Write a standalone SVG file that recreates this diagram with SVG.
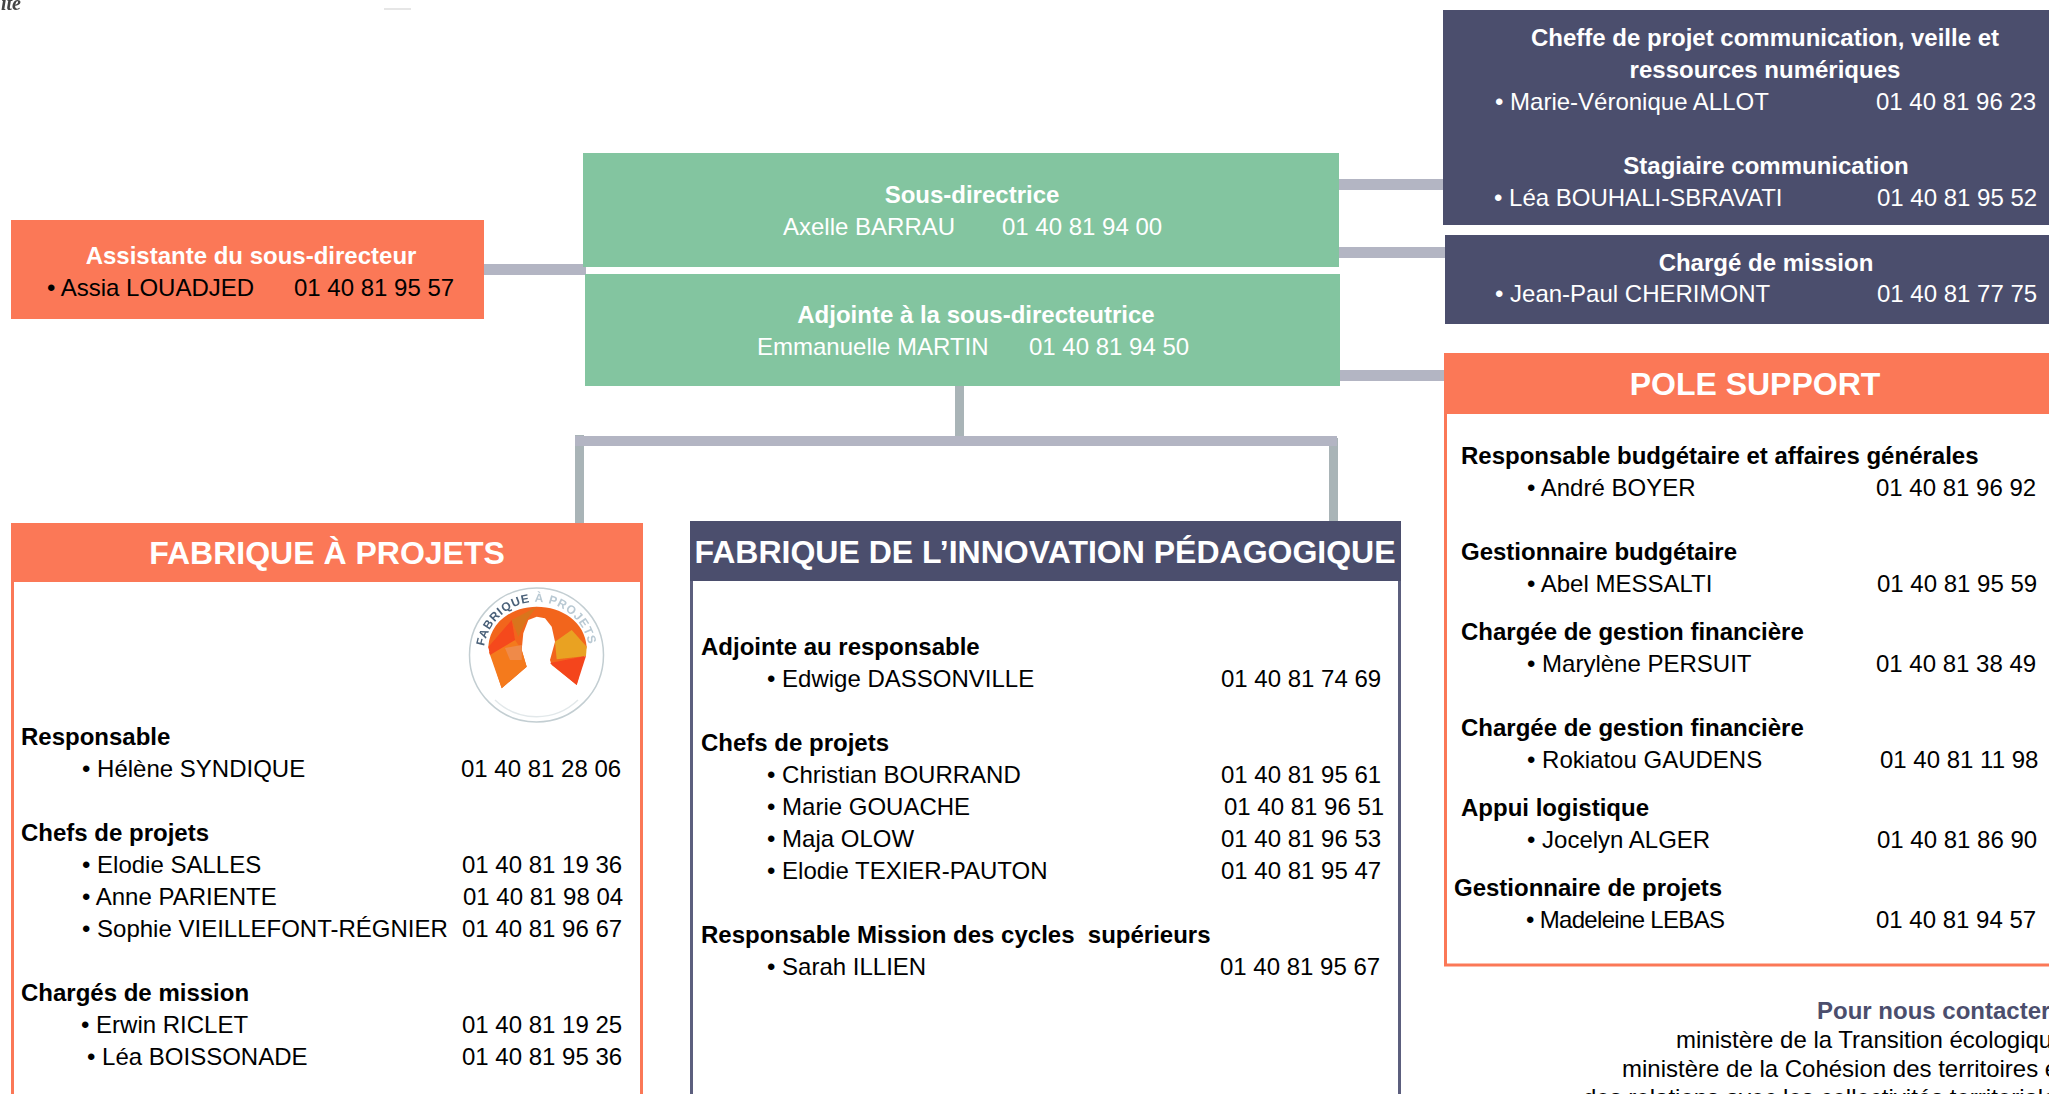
<svg xmlns="http://www.w3.org/2000/svg" width="2049" height="1094" viewBox="0 0 2049 1094">
<style>
text{font-family:"Liberation Sans",Arial,sans-serif;font-size:24px;fill:#000}
.b{font-weight:700}
.w{fill:#fff}
.c{text-anchor:middle}
.h{font-size:32px;font-weight:700;fill:#fff;text-anchor:middle}
.o{fill:#fb7857}
.n{fill:#4b4e6d}
.g{fill:#83c5a0}
.l{fill:#b3b5c3}
.v{fill:#a9b4b7}
.bo{fill:#fff;stroke:#fb7857;stroke-width:3}
.bn{fill:#fff;stroke:#5c5f7e;stroke-width:3}
</style>
<defs>
<filter id="soft" x="-10%" y="-10%" width="120%" height="120%"><feGaussianBlur stdDeviation="0.7"/></filter>
<path id="lp" d="M484.200 646.300A53 53 0 0 1 588.800 646.300"/>
</defs>
<rect width="2049" height="1094" fill="#fff"/>
<g id="connectors">
<rect class="l" x="484" y="264" width="102" height="11"/>
<rect class="l" x="1339" y="179" width="105" height="11"/>
<rect class="l" x="1339" y="247" width="106" height="11"/>
<rect class="l" x="1340" y="370" width="105" height="11"/>
<rect class="v" x="955" y="386" width="9" height="51"/>
<rect class="v" x="575" y="435" width="9" height="88"/>
<rect class="v" x="1329" y="438" width="9" height="84"/>
<rect class="l" x="575" y="436" width="762" height="10"/>
</g>
<g id="fragments">
<text x="1" y="10" filter="url(#soft)" style="font-family:'Liberation Serif',serif;font-style:italic;font-weight:700;font-size:20px;fill:#444">ité</text>
<rect x="384" y="8" width="27" height="2" fill="#e6e6e6"/>
</g>
<g id="assistante">
<rect class="o" x="11" y="220" width="473" height="99"/>
<text class="b w c" x="251" y="264">Assistante du sous-directeur</text>
<text x="47" y="296">• Assia LOUADJED</text>
<text x="294" y="296">01 40 81 95 57</text>
</g>
<g id="sous-directrice">
<rect class="g" x="583" y="153" width="756" height="114"/>
<text class="b w c" x="972" y="203">Sous-directrice</text>
<text class="w" x="783" y="235">Axelle BARRAU</text>
<text class="w" x="1002" y="235">01 40 81 94 00</text>
</g>
<g id="adjointe">
<rect class="g" x="585" y="274" width="755" height="112"/>
<text class="b w c" x="976" y="323">Adjointe à la sous-directeutrice</text>
<text class="w" x="757" y="355">Emmanuelle MARTIN</text>
<text class="w" x="1029" y="355">01 40 81 94 50</text>
</g>
<g id="communication">
<rect class="n" x="1443" y="10" width="606" height="215"/>
<text class="b w c" x="1765" y="46">Cheffe de projet communication, veille et</text>
<text class="b w c" x="1765" y="78">ressources numériques</text>
<text class="w" x="1495" y="110">• Marie-Véronique ALLOT</text>
<text class="w" x="1876" y="110">01 40 81 96 23</text>
<text class="b w c" x="1766" y="174">Stagiaire communication</text>
<text class="w" x="1494" y="206">• Léa BOUHALI-SBRAVATI</text>
<text class="w" x="1877" y="206">01 40 81 95 52</text>
</g>
<g id="charge-de-mission">
<rect class="n" x="1445" y="235" width="604" height="89"/>
<text class="b w c" x="1766" y="271">Chargé de mission</text>
<text class="w" x="1495" y="302">• Jean-Paul CHERIMONT</text>
<text class="w" x="1877" y="302">01 40 81 77 75</text>
</g>
<g id="pole-support">
<rect class="bo" x="1445.500" y="400" width="620" height="565"/>
<rect class="o" x="1444" y="353" width="605" height="61"/>
<text class="h" x="1755" y="395">POLE SUPPORT</text>
<text class="b" x="1461" y="464">Responsable budgétaire et affaires générales</text>
<text x="1527" y="496">• André BOYER</text><text x="1876" y="496">01 40 81 96 92</text>
<text class="b" x="1461" y="560">Gestionnaire budgétaire</text>
<text x="1527" y="592">• Abel MESSALTI</text><text x="1877" y="592">01 40 81 95 59</text>
<text class="b" x="1461" y="640">Chargée de gestion financière</text>
<text x="1527" y="672">• Marylène PERSUIT</text><text x="1876" y="672">01 40 81 38 49</text>
<text class="b" x="1461" y="736">Chargée de gestion financière</text>
<text x="1527" y="768">• Rokiatou GAUDENS</text><text x="1880" y="768">01 40 81 11 98</text>
<text class="b" x="1461" y="816">Appui logistique</text>
<text x="1527" y="848">• Jocelyn ALGER</text><text x="1877" y="848">01 40 81 86 90</text>
<text class="b" x="1454" y="896">Gestionnaire de projets</text>
<text x="1526" y="928" textLength="199">• Madeleine LEBAS</text><text x="1876" y="928">01 40 81 94 57</text>
</g>
<g id="contact">
<text class="b" x="1817" y="1019" style="fill:#4b4e6d">Pour nous contacter</text>
<text x="1676" y="1048">ministère de la Transition écologique</text>
<text x="1622" y="1077">ministère de la Cohésion des territoires et</text>
<text x="1583" y="1106">des relations avec les collectivités territoriales</text>
</g>
<g id="fabrique-projets">
<rect class="bo" x="12.500" y="560" width="629" height="560"/>
<rect class="o" x="11" y="523" width="632" height="59"/>
<text class="h" x="327" y="564">FABRIQUE À PROJETS</text>
<g id="logo" filter="url(#soft)">
<circle cx="536.500" cy="655" r="67" fill="#fff" stroke="#c3ced2" stroke-width="1.500"/>
<path d="M495 700A60 60 0 0 0 578 700" fill="none" stroke="#e2e8ea" stroke-width="1.500"/>
<path d="M501.700 688.300L488.300 646.700C490 622 512 606.700 536.700 606.700C562 606.700 585 622 586.700 646.700L576.700 685L551.700 665L550 660L555 641.700L551.700 626.700L545 618.300L536.700 616.700L528.300 620L523.300 633.300L521.700 650L526.700 666.700Z" fill="#f2651f"/>
<path d="M501.700 688.300L489 652L515 640L521.700 650L526.700 666.700Z" fill="#f47a1e"/>
<path d="M571.700 630L586.700 646.700L586 656L556.700 659.300L555 641.700Z" fill="#e9a222"/>
<path d="M550 663L586 656L576.700 685Z" fill="#f4441f"/>
<path d="M488.300 647L511.700 620L515 640L490 655Z" fill="#f5481f"/>
<path d="M511.700 620L536.700 606.700L526.700 620L518.300 636.700Z" fill="#d9751f"/>
<path d="M505 648L521.700 645L521.700 660L510 660Z" fill="#ef8a4a"/>
<text style="font-size:12px;font-weight:700;fill:#4a6078;letter-spacing:.8px"><textPath href="#lp">FABRIQUE <tspan style="fill:#b9c9d3">À PROJETS</tspan></textPath></text>
</g>
<text class="b" x="21" y="745">Responsable</text>
<text x="82" y="777">• Hélène SYNDIQUE</text><text x="461" y="777">01 40 81 28 06</text>
<text class="b" x="21" y="841">Chefs de projets</text>
<text x="82" y="873">• Elodie SALLES</text><text x="462" y="873">01 40 81 19 36</text>
<text x="82" y="905">• Anne PARIENTE</text><text x="463" y="905">01 40 81 98 04</text>
<text x="82" y="937">• Sophie VIEILLEFONT-RÉGNIER</text><text x="462" y="937">01 40 81 96 67</text>
<text class="b" x="21" y="1001">Chargés de mission</text>
<text x="81" y="1033">• Erwin RICLET</text><text x="462" y="1033">01 40 81 19 25</text>
<text x="87" y="1065">• Léa BOISSONADE</text><text x="462" y="1065">01 40 81 95 36</text>
</g>
<g id="fabrique-innovation">
<rect class="bn" x="691.500" y="560" width="708" height="560"/>
<rect class="n" x="690" y="521" width="711" height="60"/>
<text class="h" x="1045" y="563">FABRIQUE DE L’INNOVATION PÉDAGOGIQUE</text>
<text class="b" x="701" y="655">Adjointe au responsable</text>
<text x="767" y="687">• Edwige DASSONVILLE</text><text x="1221" y="687">01 40 81 74 69</text>
<text class="b" x="701" y="751">Chefs de projets</text>
<text x="767" y="783">• Christian BOURRAND</text><text x="1221" y="783">01 40 81 95 61</text>
<text x="767" y="815">• Marie GOUACHE</text><text x="1224" y="815">01 40 81 96 51</text>
<text x="767" y="847">• Maja OLOW</text><text x="1221" y="847">01 40 81 96 53</text>
<text x="767" y="879">• Elodie TEXIER-PAUTON</text><text x="1221" y="879">01 40 81 95 47</text>
<text class="b" x="701" y="943" xml:space="preserve">Responsable Mission des cycles  supérieurs</text>
<text x="767" y="975">• Sarah ILLIEN</text><text x="1220" y="975">01 40 81 95 67</text>
</g>
</svg>
